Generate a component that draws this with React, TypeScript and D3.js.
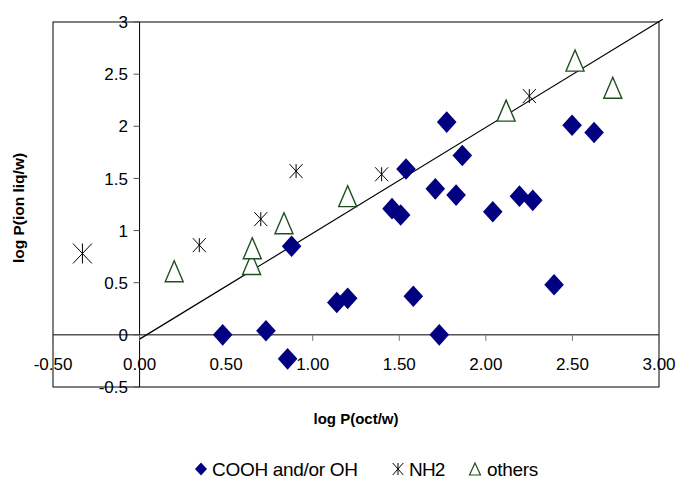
import React from "react";
import * as d3 from "d3";

// ---- data ----
const xTicks = [-0.5, 0, 0.5, 1, 1.5, 2, 2.5, 3];
const yTicks = [-0.5, 0, 0.5, 1, 1.5, 2, 2.5, 3];

const coohX = [0.48, 0.73, 0.855, 0.878, 1.139, 1.202, 1.458, 1.508, 1.539, 1.581, 1.708, 1.731, 1.774, 1.828, 1.864, 2.04, 2.194, 2.271, 2.394, 2.498, 2.625];
const coohY = [0.0, 0.04, -0.23, 0.85, 0.31, 0.35, 1.21, 1.15, 1.59, 0.37, 1.4, 0.0, 2.04, 1.34, 1.72, 1.18, 1.33, 1.29, 0.48, 2.01, 1.94];

const nh2X = [-0.33, 0.345, 0.7, 0.904, 1.398, 2.251];
const nh2Y = [0.78, 0.86, 1.11, 1.57, 1.54, 2.29];

const othersX = [0.2, 0.647, 0.651, 0.834, 1.202, 2.117, 2.515, 2.733];
const othersY = [0.61, 0.68, 0.83, 1.07, 1.33, 2.15, 2.63, 2.37];

const seriesNames = ["COOH and/or OH", "NH2", "others"];

// reference line (drawn y ≈ x)
const refLineX = [0, 3.022];
const refLineY = [-0.041, 3.027];

// ---- styles ----
const W = 677;
const H = 480;
const FONT = "'Liberation Sans', Arial, Helvetica, sans-serif";
const NAVY = "#000080";
const GREEN = "#1f501f";
const NH2_LARGE_INDEX = 0;

const x = d3.scaleLinear().domain([-0.5, 3]).range([53, 659]);
const y = d3.scaleLinear().domain([-0.5, 3]).range([387, 22]);

function Diamond({ cx, cy, hw, hh }: { cx: number; cy: number; hw: number; hh: number }) {
  return <path d={`M${cx},${cy - hh}L${cx + hw},${cy}L${cx},${cy + hh}L${cx - hw},${cy}Z`} fill={NAVY} />;
}

function Star({ cx, cy, hw, hh }: { cx: number; cy: number; hw: number; hh: number }) {
  return (
    <path
      d={`M${cx - hw},${cy - hh}L${cx + hw},${cy + hh}M${cx + hw},${cy - hh}L${cx - hw},${cy + hh}M${cx},${cy - hh}L${cx},${cy + hh}`}
      stroke="#000"
      strokeWidth={1}
      fill="none"
    />
  );
}

function Tri({ cx, cy, hw, hh, sw }: { cx: number; cy: number; hw: number; hh: number; sw: number }) {
  return (
    <path
      d={`M${cx},${cy - hh}L${cx + hw},${cy + hh}L${cx - hw},${cy + hh}Z`}
      stroke={GREEN}
      strokeWidth={sw}
      fill="#fff"
      strokeLinejoin="miter"
    />
  );
}

export default function App() {
  const line = d3
    .line<number>()
    .x((_, i) => x(refLineX[i]))
    .y((_, i) => y(refLineY[i]));

  const x0 = x(0);
  const y0 = y(0);

  return (
    <svg
      width={W}
      height={H}
      viewBox={`0 0 ${W} ${H}`}
      style={{ position: "absolute", left: 0, top: 0, background: "#fff" }}
      fontFamily={FONT}
    >
      <rect x={0} y={0} width={W} height={H} fill="#fff" />
      {/* plot frame */}
      <rect x={x(-0.5)} y={y(3)} width={x(3) - x(-0.5)} height={y(-0.5) - y(3)} fill="none" stroke="#000" strokeWidth={1} />

      {/* axes through origin */}
      <line x1={x(-0.5)} x2={x(3)} y1={y0} y2={y0} stroke="#000" strokeWidth={1} />
      <line x1={x0} x2={x0} y1={y(3)} y2={y(-0.5)} stroke="#000" strokeWidth={1} />

      {/* x ticks */}
      {xTicks.map((t) => (
        <g key={"xt" + t}>
          <line x1={x(t)} x2={x(t)} y1={y0} y2={y0 + 6} stroke="#777" strokeWidth={1} />
          <text x={x(t)} y={370} textAnchor="middle" fontSize={17} fill="#000">
            {t.toFixed(2)}
          </text>
        </g>
      ))}

      {/* y ticks */}
      {yTicks.map((t) => (
        <g key={"yt" + t}>
          <line x1={x0 - 6} x2={x0} y1={y(t)} y2={y(t)} stroke="#555" strokeWidth={1} />
          <text x={128} y={y(t)} dy="0.36em" textAnchor="end" fontSize={17} fill="#000">
            {String(t)}
          </text>
        </g>
      ))}

      {/* reference line */}
      <path d={line(refLineX) || ""} stroke="#000" strokeWidth={1.2} fill="none" />

      {/* series */}
      {coohX.map((v, i) => (
        <Diamond key={"c" + i} cx={x(v)} cy={y(coohY[i])} hw={9.8} hh={10.8} />
      ))}
      {nh2X.map((v, i) => {
        const big = i === NH2_LARGE_INDEX;
        return <Star key={"n" + i} cx={x(v)} cy={y(nh2Y[i])} hw={big ? 9.5 : 6.5} hh={big ? 10 : 7} />;
      })}
      {othersX.map((v, i) => (
        <Tri key={"o" + i} cx={x(v)} cy={y(othersY[i])} hw={9} hh={10.5} sw={1.4} />
      ))}

      {/* axis titles */}
      <text x={356} y={424} textAnchor="middle" fontSize={15} fontWeight="bold" fill="#000">
        log P(oct/w)
      </text>
      <text
        transform={`translate(24,208) rotate(-90)`}
        textAnchor="middle"
        fontSize={15.5}
        fontWeight="bold"
        fill="#000"
      >
        log P(ion liq/w)
      </text>

      {/* legend */}
      <g fontSize={19} fill="#000">
        <Diamond cx={201} cy={469} hw={6} hh={6.5} />
        <text x={212} y={469} dy="0.36em" letterSpacing={-0.3}>
          {seriesNames[0]}
        </text>
        <Star cx={398} cy={469} hw={5.3} hh={6} />
        <text x={409} y={469} dy="0.36em" letterSpacing={-0.8}>
          {seriesNames[1]}
        </text>
        <Tri cx={475} cy={469} hw={5.5} hh={6} sw={1.2} />
        <text x={487} y={469} dy="0.36em" letterSpacing={-0.3}>
          {seriesNames[2]}
        </text>
      </g>
    </svg>
  );
}
